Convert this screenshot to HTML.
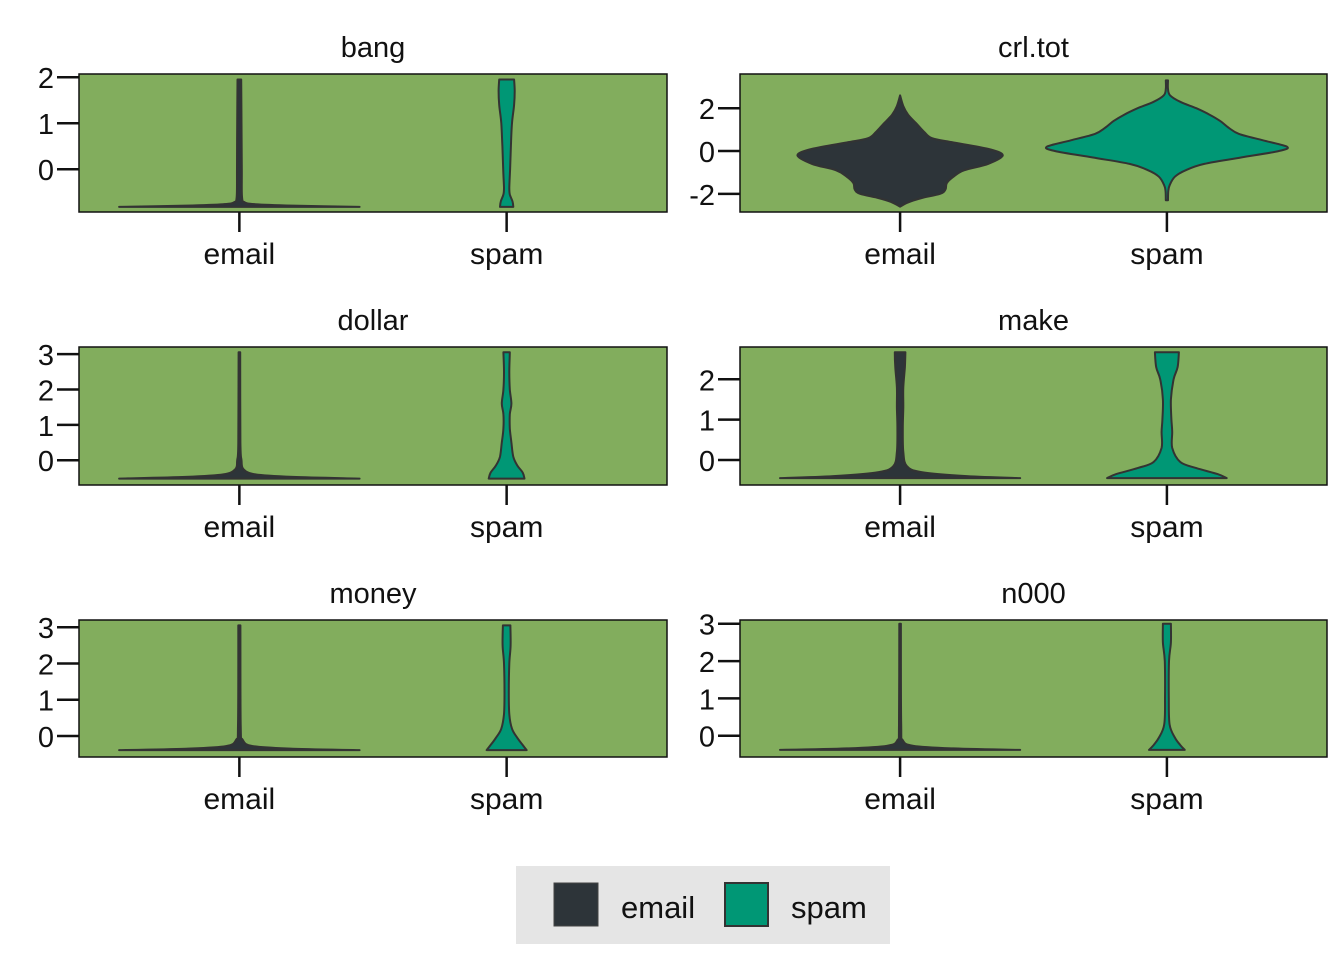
<!DOCTYPE html>
<html><head><meta charset="utf-8">
<style>
html,body{margin:0;padding:0;background:#fff;}
svg{display:block;font-family:"Liberation Sans",Arial,sans-serif;}
</style></head>
<body>
<svg id="chart" width="1344" height="960" viewBox="0 0 1344 960" xmlns="http://www.w3.org/2000/svg">
<rect width="1344" height="960" fill="#fff"/>
<g>
<rect x="516" y="866" width="374" height="78" fill="#e5e5e5"/>
<rect x="554" y="883" width="44" height="43" fill="#2d3439" stroke="#444" stroke-width="1"/>
<text x="621" y="918" font-size="31" fill="#111">email</text>
<rect x="725" y="883" width="43" height="43" fill="#009775" stroke="#333" stroke-width="2"/>
<text x="791" y="918" font-size="31" fill="#111">spam</text>
</g>
</svg>
<script>
const categories = ["email","spam"];
const panelTitles = ["bang","crl.tot","dollar","make","money","n000"];
const bangTicks = [0,1,2];
const crlTicks = [-2,0,2];
const dollarTicks = [0,1,2,3];
const makeTicks = [0,1,2];
const moneyTicks = [0,1,2,3];
const n000Ticks = [0,1,2,3];
const bangDomain = [-0.93, 2.07];
const crlDomain = [-2.85, 3.6];
const dollarDomain = [-0.7, 3.2];
const makeDomain = [-0.62, 2.8];
const moneyDomain = [-0.58, 3.2];
const n000Domain = [-0.57, 3.1];
// [value, half-width as fraction of category spacing]
const bangEmail = [[-0.82,0.45],[-0.79,0.2],[-0.76,0.06],[-0.72,0.02],[-0.6,0.01],[0,0.009],[1,0.008],[1.95,0.007]];
const bangSpam = [[-0.82,0.025],[-0.7,0.022],[-0.55,0.012],[-0.4,0.01],[0,0.013],[0.5,0.016],[1.0,0.02],[1.4,0.028],[1.7,0.03],[1.95,0.028]];
const crlEmail = [[-2.6,0],[-2.4,0.03],[-2.2,0.08],[-2.0,0.15],[-1.8,0.17],[-1.5,0.175],[-1.2,0.2],[-0.9,0.24],[-0.6,0.33],[-0.2,0.385],[0.1,0.33],[0.4,0.2],[0.6,0.12],[0.9,0.09],[1.3,0.06],[1.7,0.03],[2.1,0.012],[2.6,0]];
const crlSpam = [[-2.3,0.004],[-1.9,0.005],[-1.6,0.01],[-1.2,0.03],[-0.9,0.07],[-0.6,0.14],[-0.3,0.28],[0.0,0.42],[0.2,0.45],[0.5,0.36],[0.8,0.27],[1.1,0.23],[1.4,0.2],[1.7,0.16],[2.0,0.11],[2.3,0.05],[2.6,0.012],[2.9,0.004],[3.3,0.004]];
const dollarEmail = [[-0.52,0.45],[-0.47,0.2],[-0.4,0.06],[-0.25,0.015],[0,0.008],[0.5,0.004],[3.05,0.003]];
const dollarSpam = [[-0.52,0.067],[-0.35,0.06],[-0.15,0.04],[0.1,0.025],[0.5,0.018],[0.9,0.012],[1.3,0.012],[1.6,0.018],[2.0,0.012],[2.5,0.01],[3.05,0.012]];
const makeEmail = [[-0.45,0.45],[-0.4,0.25],[-0.3,0.08],[-0.15,0.025],[0.2,0.012],[0.8,0.01],[1.3,0.012],[1.8,0.012],[2.3,0.018],[2.67,0.02]];
const makeSpam = [[-0.45,0.224],[-0.35,0.19],[-0.2,0.11],[-0.05,0.05],[0.3,0.02],[0.7,0.02],[1.0,0.017],[1.5,0.015],[2.0,0.025],[2.3,0.04],[2.67,0.045]];
const moneyEmail = [[-0.39,0.45],[-0.35,0.2],[-0.28,0.05],[-0.1,0.012],[0.3,0.005],[3.05,0.004]];
const moneySpam = [[-0.39,0.075],[-0.25,0.06],[-0.05,0.04],[0.2,0.02],[0.6,0.01],[1.2,0.008],[2.0,0.01],[2.5,0.015],[3.05,0.014]];
const n000Email = [[-0.38,0.45],[-0.34,0.2],[-0.27,0.05],[-0.12,0.01],[0.3,0.004],[3.0,0.003]];
const n000Spam = [[-0.38,0.067],[-0.25,0.05],[-0.05,0.03],[0.3,0.01],[1.0,0.007],[2.0,0.008],[2.5,0.015],[3.0,0.015]];

const panels = [
 {x0:79,x1:667,y0:74,y1:212,dom:bangDomain,ticks:bangTicks,e:bangEmail,s:bangSpam},
 {x0:740,x1:1327,y0:74,y1:212,dom:crlDomain,ticks:crlTicks,e:crlEmail,s:crlSpam},
 {x0:79,x1:667,y0:347,y1:485,dom:dollarDomain,ticks:dollarTicks,e:dollarEmail,s:dollarSpam},
 {x0:740,x1:1327,y0:347,y1:485,dom:makeDomain,ticks:makeTicks,e:makeEmail,s:makeSpam},
 {x0:79,x1:667,y0:620,y1:757,dom:moneyDomain,ticks:moneyTicks,e:moneyEmail,s:moneySpam},
 {x0:740,x1:1327,y0:620,y1:757,dom:n000Domain,ticks:n000Ticks,e:n000Email,s:n000Spam}
];
const colors = ["#2d3439","#009775"];
const NS = "http://www.w3.org/2000/svg";
const svg = document.getElementById("chart");
function mk(tag, attrs, parent){const el=document.createElementNS(NS,tag);for(const k in attrs)el.setAttribute(k,attrs[k]);parent.appendChild(el);return el;}
function smooth(pts){
  let d="";
  for(let i=0;i<pts.length-1;i++){
    const p0=pts[Math.max(i-1,0)],p1=pts[i],p2=pts[i+1],p3=pts[Math.min(i+2,pts.length-1)];
    const c1=[p1[0]+(p2[0]-p0[0])/6,p1[1]+(p2[1]-p0[1])/6];
    const c2=[p2[0]-(p3[0]-p1[0])/6,p2[1]-(p3[1]-p1[1])/6];
    d+="C"+c1[0].toFixed(1)+","+c1[1].toFixed(1)+" "+c2[0].toFixed(1)+","+c2[1].toFixed(1)+" "+p2[0].toFixed(1)+","+p2[1].toFixed(1);
  }
  return d;
}

panels.forEach((p,i)=>{
  const g = mk("g",{},svg);
  
  
  const yS = v => p.y1 - (v - p.dom[0])/(p.dom[1]-p.dom[0])*(p.y1-p.y0);
  const w = p.x1 - p.x0;
  const band = w/2.2;
  const xS = c => p.x0 + w/2 + (c-0.5)*band;
  const bg = mk("rect",{x:p.x0,y:p.y0,width:w,height:p.y1-p.y0,fill:"#82ad5d",stroke:"#111","stroke-width":1.5},g);
  
  
  const t = mk("text",{x:(p.x0+p.x1)/2,y:p.y0-17,"font-size":29,"text-anchor":"middle",fill:"#111"},g);
  t.textContent = panelTitles[i];
  
  
  p.ticks.forEach(v=>{
    const y=yS(v);
    const l = mk("line",{x1:p.x0-22,x2:p.x0,y1:y,y2:y,stroke:"#111","stroke-width":2.5},g);
    
    
    const tx = mk("text",{x:p.x0-25,y:y+11,"font-size":29,"text-anchor":"end",fill:"#111"},g);
    tx.textContent = String(v);
    
    
  });
  categories.forEach((c,ci)=>{
    const x=xS(ci);
    const l = mk("line",{x1:x,x2:x,y1:p.y1,y2:p.y1+20,stroke:"#111","stroke-width":2.5},g);
    
    
    const tx = mk("text",{x:x,y:p.y1+52,"font-size":30,"text-anchor":"middle",fill:"#111"},g);
    tx.textContent = c;
    
    
    const prof = ci===0 ? p.e : p.s;
    const right = prof.map(d=>[x+d[1]*band, yS(d[0])]);
    const left = prof.slice().reverse().map(d=>[x-d[1]*band, yS(d[0])]);
    const dstr = "M"+right[0][0].toFixed(1)+","+right[0][1].toFixed(1)+smooth(right)+
      "L"+left[0][0].toFixed(1)+","+left[0][1].toFixed(1)+smooth(left)+"Z";
    const v = mk("path",{d:dstr,fill:colors[ci],stroke:"#333","stroke-width":2,"stroke-linejoin":"round"},g);
    
    
  });
});
</script>
</body></html>
